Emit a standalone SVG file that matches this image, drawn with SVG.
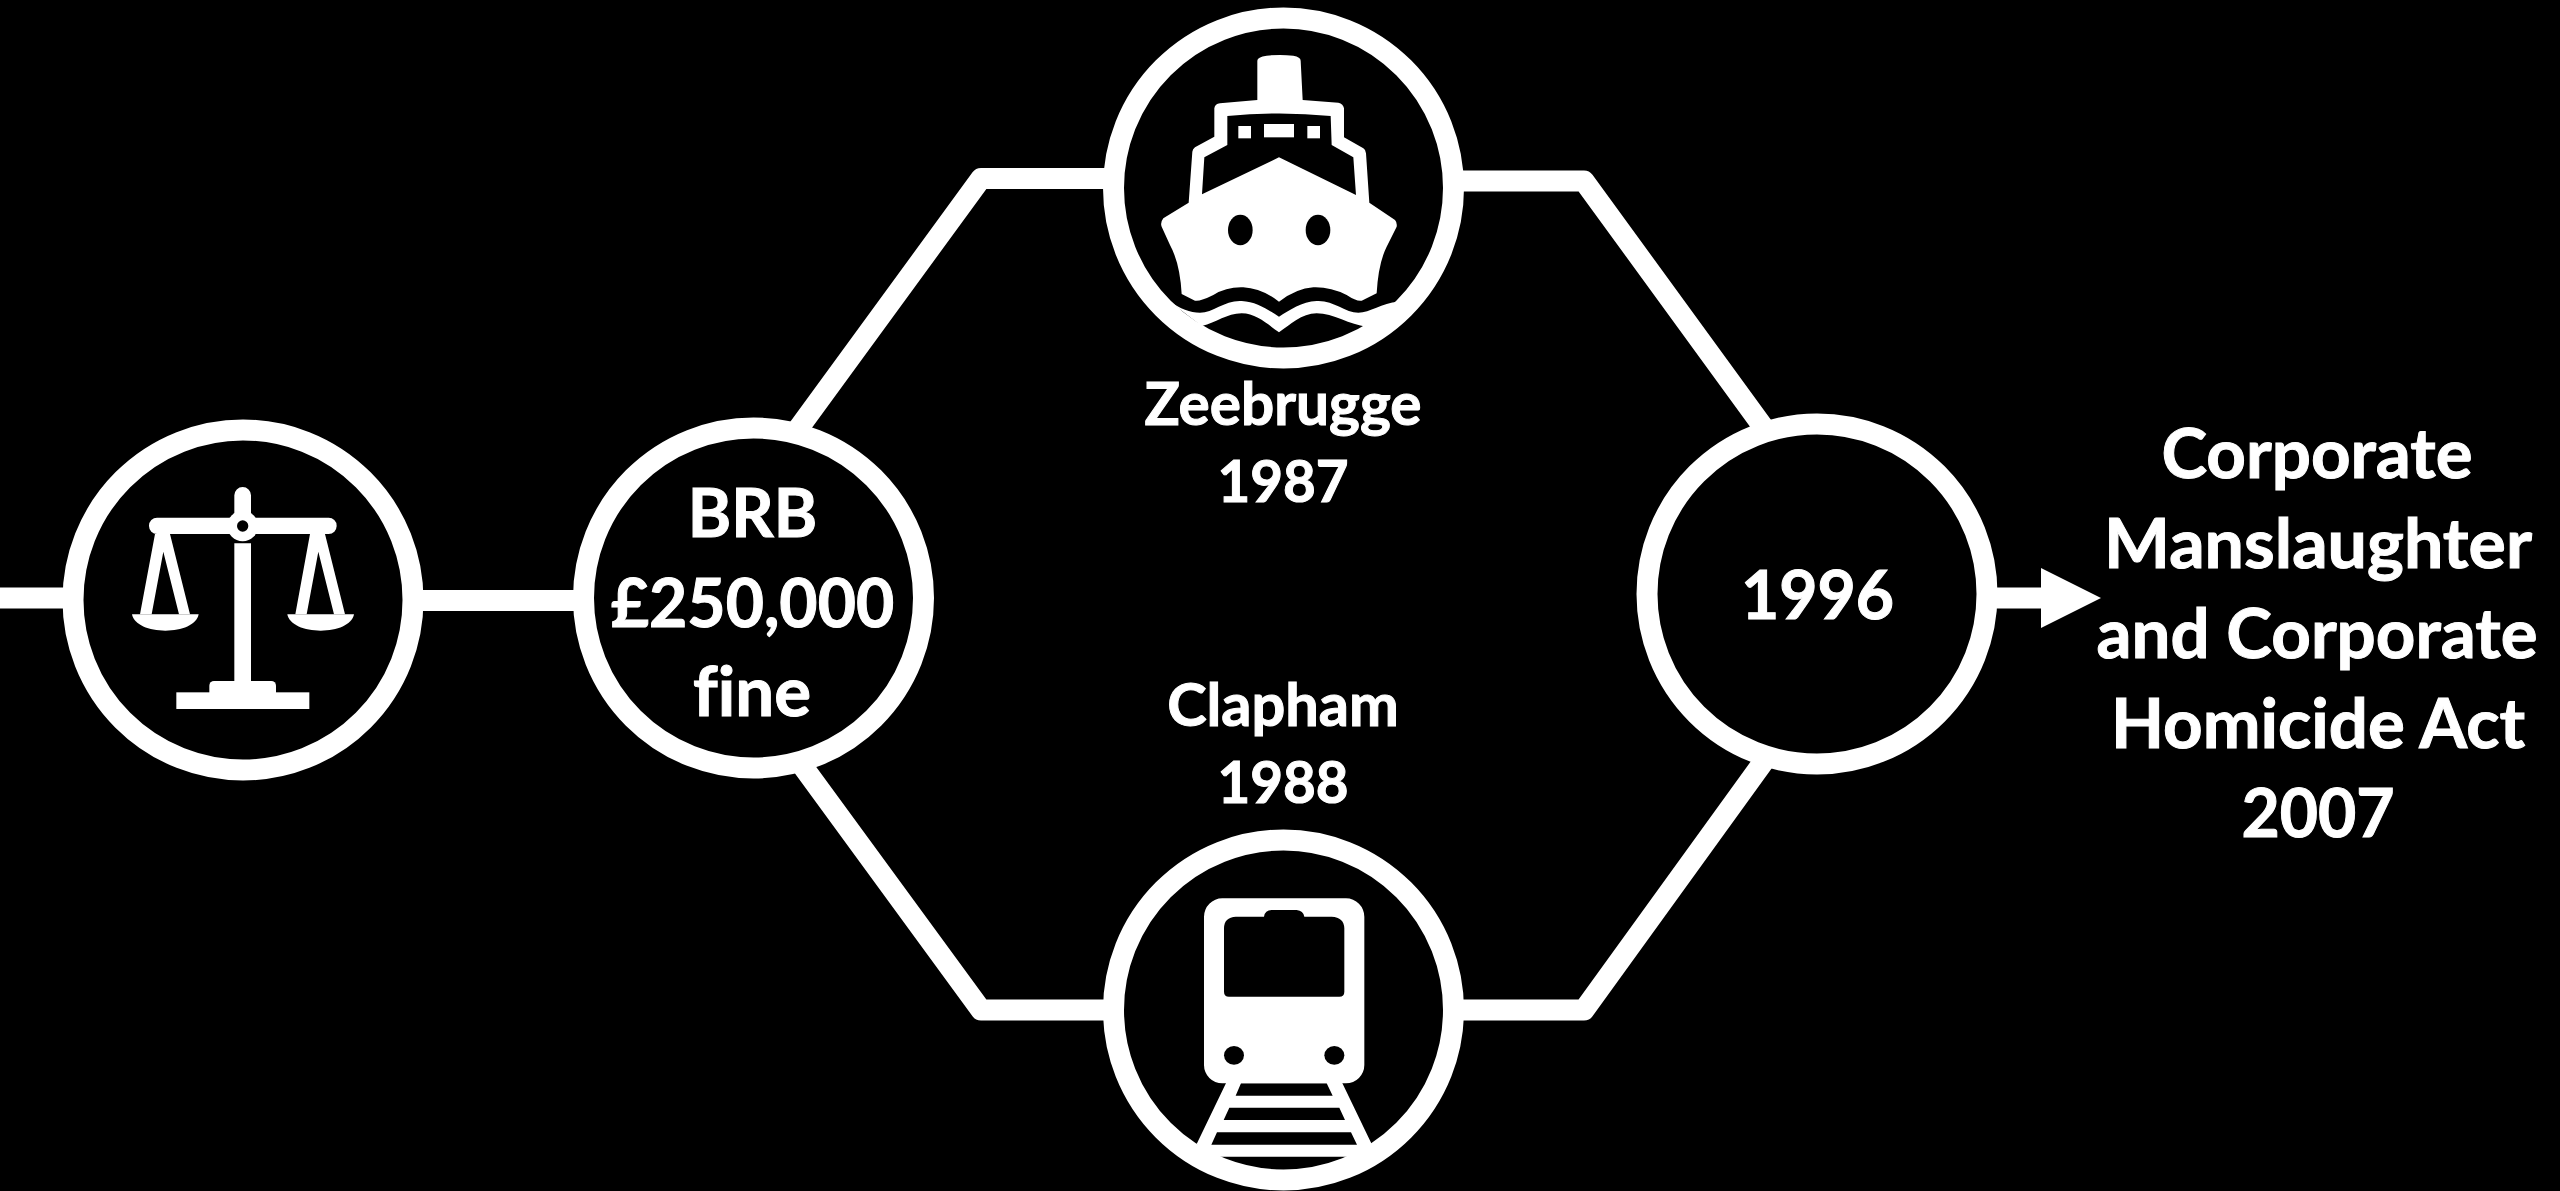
<svg xmlns="http://www.w3.org/2000/svg" width="2560" height="1191" viewBox="0 0 2560 1191">
<style>
.ring{fill:#000;stroke:#fff;stroke-width:21}
.link{fill:none;stroke:#fff;stroke-width:21;stroke-linejoin:round}
.icon{fill:#fff;fill-rule:evenodd}
.hole{fill:#000}
text{font-family:Lato,"Liberation Sans",sans-serif;font-weight:700;fill:#fff;stroke:#fff;stroke-width:1;text-anchor:middle;font-variant-ligatures:none}
.big{font-size:69px}
.num{font-size:66px}
.small{font-size:59.5px}
.snum{font-size:56.5px}
</style>
<defs>
<marker id="head" markerUnits="userSpaceOnUse" markerWidth="60" markerHeight="60" viewBox="0 0 60 60" refX="0" refY="30" orient="auto"><path d="M0,0L60,30L0,60Z" fill="#fff"/></marker>
</defs>
<rect id="background" width="2560" height="1191" fill="#000"/>
<g id="connectors">
<path class="link" d="M0,598H70"/>
<path class="link" d="M420,600.5H580"/>
<path class="link" d="M790,440L981,178.5H1110"/>
<path class="link" d="M1460,181H1584L1772,439"/>
<path class="link" d="M793,753L981,1010H1110"/>
<path class="link" d="M1460,1010H1584L1772,750"/>
<path class="link" d="M1990,598H2041" marker-end="url(#head)"/>
</g>
<g id="node-scales">
<circle class="ring" cx="243" cy="600" r="170"/>
<g transform="translate(0,410) scale(0.33333)">
<path class="icon" d="M703,400V256a24,24 0 0 1 50,0V400ZM703,340H753V815H703Z"/>
<rect class="icon" x="447" y="323" width="563" height="49" rx="24"/>
<circle class="icon" cx="728" cy="348" r="46"/>
<circle class="hole" cx="728" cy="348" r="17"/>
<path class="icon" d="M465,372H510L570,613H537L490,425L455,613H420Z"/>
<path class="icon" d="M930,372H975L1035,613H1002L955,425L920,613H886Z"/>
<path class="icon" d="M396,613H596C590,645 545,662 496,662C447,662 402,645 396,613Z"/>
<path class="icon" d="M862,613H1062C1056,645 1011,662 962,662C913,662 868,645 862,613Z"/>
<path class="icon" d="M628,850V827a14,14 0 0 1 14,-14H814a14,14 0 0 1 14,14V850Z"/>
<rect class="icon" x="529" y="847" width="399" height="50"/>
</g>
</g>
<g id="node-brb">
<circle class="ring" cx="753.5" cy="598" r="170"/>
<text class="num" x="752.5" y="537">BRB</text>
<text class="num" x="752.5" y="627">£250,000</text>
<text class="big" x="752" y="716">fine</text>
</g>
<g id="node-ship">
<circle class="ring" cx="1283.5" cy="188" r="170"/>
<g transform="translate(1080,0) scale(0.33333)">
<path class="icon" d="M532,300L532,182Q532,171 560,167Q600,163 640,167Q662,171 662,182L668,300L775,308Q790,312 792,325L792,412L850,445Q858,450 858,460L868,608L945,660Q952,668 950,680L920,740Q895,790 890,880L845,902Q830,905 800,885Q750,860 700,862Q650,865 597,905Q545,865 490,862Q440,860 400,885Q360,905 345,902L305,882Q300,790 270,735L245,680Q240,668 250,655L326,608L337,455Q338,447 345,442L403,410L403,325Q405,312 420,310ZM442,348Q600,333 752,348L755,435L820,472L828,585L597,472L366,583L373,472L442,435Z"/>
<rect class="icon" x="475" y="378" width="38" height="37"/>
<rect class="icon" x="552" y="372" width="90" height="40"/>
<rect class="icon" x="682" y="378" width="38" height="37"/>
<ellipse class="hole" cx="481" cy="690" rx="37" ry="46"/>
<ellipse class="hole" cx="714" cy="690" rx="37" ry="46"/>
<path class="icon" d="M270,905C300,925 330,938 360,938C400,938 435,900 485,903C530,905 565,930 597,950C630,930 665,905 710,903C760,900 795,938 835,938C870,938 905,908 955,905L860,980C810,975 760,940 710,940C665,940 630,975 597,997C565,975 530,940 485,940C440,940 410,968 365,978Z"/>
</g>
<text class="small" x="1283" y="425" style="font-size:58.5px">Zeebrugge</text>
<text class="snum" x="1283" y="502">1987</text>
</g>
<g id="node-train">
<circle class="ring" cx="1283.5" cy="1010" r="170"/>
<g transform="translate(1080,810) scale(0.33333)">
<path class="icon" d="M427,265H798a55,55 0 0 1 55,55V765a55,55 0 0 1 -55,55H427a55,55 0 0 1 -55,-55V320a55,55 0 0 1 55,-55ZM432,355Q432,322 468,320L552,320Q555,300 575,300L650,300Q670,302 673,320L755,320Q792,322 793,355L793,545Q793,560 778,560L447,560Q432,560 432,545Z"/>
<ellipse class="hole" cx="462" cy="736" rx="30" ry="28"/>
<ellipse class="hole" cx="763" cy="736" rx="30" ry="28"/>
<path class="icon" d="M440,815H785L875,1002L800,1070L611,1100L420,1070L350,1002ZM483,820H740L758,857H467ZM448,893H778L795,930H431ZM411,967H813L831,1004H394ZM412,1040H808Q720,1080 611,1080Q500,1080 412,1040Z"/>
</g>
<text class="small" x="1283" y="726">Clapham</text>
<text class="snum" x="1283" y="803">1988</text>
</g>
<g id="node-1996">
<circle class="ring" cx="1817" cy="594" r="170"/>
<text class="num" x="1817.5" y="619">1996</text>
</g>
<g id="node-act">
<text class="big" x="2317" y="478">Corporate</text>
<text class="big" x="2318" y="568" textLength="428" lengthAdjust="spacingAndGlyphs">Manslaughter</text>
<text class="big" x="2317" y="658">and Corporate</text>
<text class="big" x="2318" y="748">Homicide Act</text>
<text class="num" x="2318" y="837">2007</text>
</g>
</svg>
